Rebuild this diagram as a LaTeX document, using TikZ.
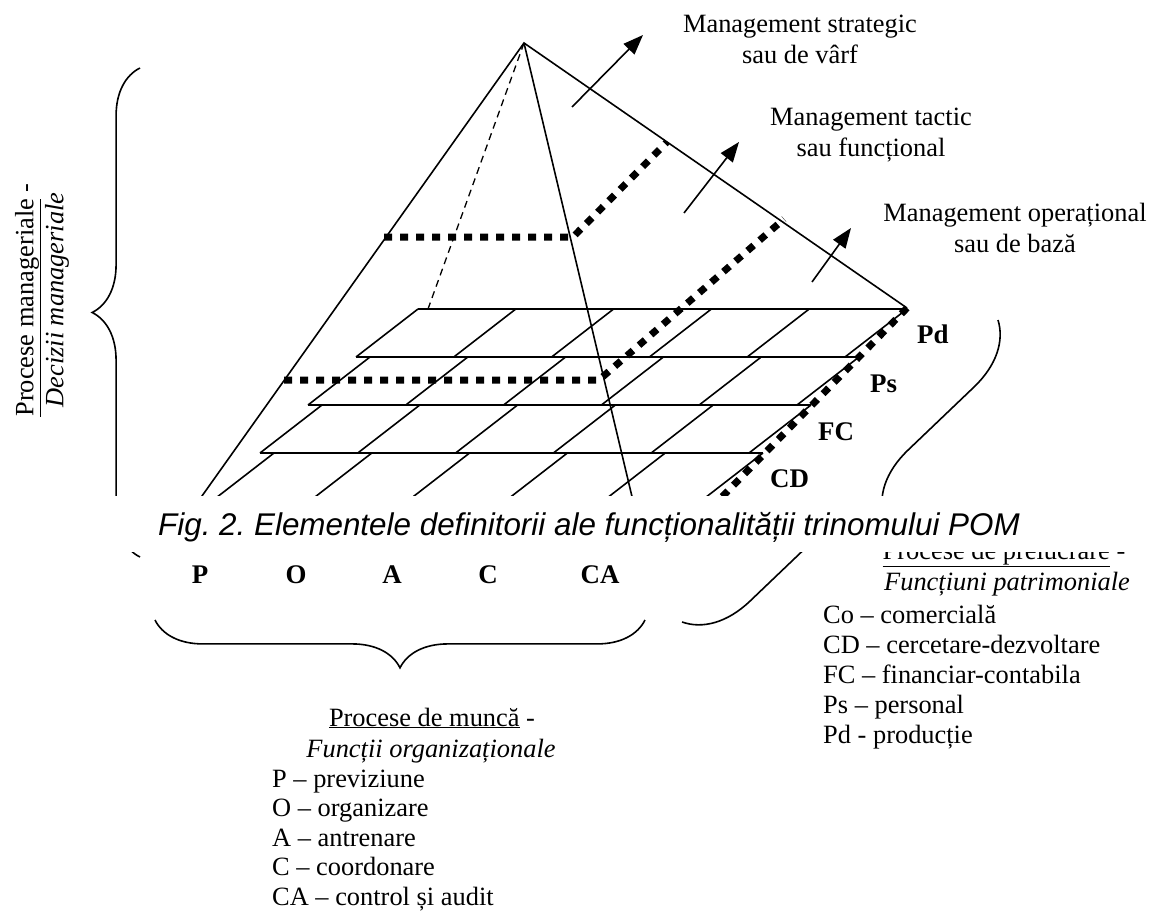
\documentclass[tikz,border=0pt]{standalone}
\usepackage{fontspec}
\setmainfont{Liberation Serif}
\newfontfamily\capfont{Liberation Sans}
\usetikzlibrary{arrows.meta,decorations.pathreplacing}

\tikzset{
  ridge/.style={line width=1.6bp},
  backline/.style={line width=1.3bp, dash pattern=on 7bp off 5bp},
  cellline/.style={line width=1.6bp},
  levelcut/.style={line width=7bp, dash pattern=on 8bp off 8bp},
  pointer/.style={line width=1.6bp, -{Triangle[length=20bp,width=15bp]}},
  curly/.style={line width=1.6bp, decorate, decoration={brace, amplitude=#1}},
  lbl/.style={font=\fontsize{27}{30}\selectfont\bfseries},
}

\begin{document}
\frenchspacing
\begin{tikzpicture}[x=1bp, y=-1bp, font=\fontsize{26.5}{30.3}\selectfont,
  every node/.style={inner sep=0pt}]
\useasboundingbox (0,0) rectangle (1151,912);

% corners of the pyramid
\coordinate (apex) at (524,43);
\coordinate (rc) at (907,308);
\coordinate (lf) at (197,503);
\coordinate (mf) at (634,505);
\coordinate (bk) at (428,309);
\coordinate (rf) at (717,502);

%% the layers of the base
\foreach \k in {0,...,3} {
  \pgfmathsetmacro{\xo}{418-48*\k}
  \pgfmathsetmacro{\yo}{309+48*\k}
  \pgfmathsetmacro{\xl}{\xo-14*min(\k,1)}
  \draw[cellline] (\xl,\yo) -- (\xo+489,\yo);
  \foreach \i in {0,...,5}
    \draw[cellline] (\xo+97.8*\i,\yo) -- ++(-62,48);
}

% edges
\draw[ridge] (lf) -- (apex) -- (rc);
\draw[ridge] (apex) -- (mf);
\draw[backline] (apex) -- (bk);

% the two levels
\coordinate (t1) at (384,237);
\coordinate (t2) at (573,237);
\coordinate (t3) at (667,142);
\coordinate (b1) at (284,380);
\coordinate (b2) at (599,380);
\coordinate (b3) at (784,219);
\draw[levelcut] (t1) -- (t2) -- (t3);
\draw[levelcut] (b1) -- (b2) -- (b3);
\draw[levelcut] (rc) -- (rf);

%% arrows out of the faces
\coordinate (s0) at (572,107);
\coordinate (s1) at (643,35);
\coordinate (m0) at (684,213);
\coordinate (m1) at (739,142);
\coordinate (o0) at (812,282);
\coordinate (o1) at (851,228);
\draw[pointer] (s0) -- (s1);
\draw[pointer] (m0) -- (m1);
\draw[pointer] (o0) -- (o1);

\node[align=center, anchor=base] (strat) at (800,63) {Management strategic\\sau de vârf};
\node[align=center, anchor=base] (tact) at (871,156) {Management tactic\\sau funcțional};
\node[align=center, anchor=base] (oper) at (1015,252) {Management operațional\\sau de bază};

% left side
\draw[curly=48] (140,557) -- (140,68);
\node[rotate=90, align=center] (mgr) at (42,300) {\underline{Procese manageriale} -\\\textit{Decizii manageriale}};

%% layer names
\foreach \t/\x/\y in {Pd/917/343, Ps/870/392, FC/818/440, CD/770/487}
  \node[lbl, anchor=base west] (d\t) at (\x,\y) {\t};
\draw[curly=64] (998,320) -- (682,622);

% functions
\foreach \t/\x in {P/200, O/296, A/392, C/488, CA/600}
  \node[lbl, anchor=base] (f\t) at (\x,583) {\t};
\draw[curly=48] (645,620) -- (155,620);

\node[anchor=base] (munca) at (432,726) {\underline{Procese de muncă} -};
\node[anchor=base] (org) at (431,757) {\textit{Funcții organizaționale}};
\foreach \t [count=\i from 0] in {P – previziune, O – organizare, A – antrenare, C – coordonare, CA – control și audit}
  \node[anchor=base west] (o\i) at (272,787+29.6*\i) {\t};

\node[anchor=base] (prel) at (1004,559) {\underline{Procese de prelucrare} -};
\node[anchor=base] (patr) at (1007,590) {\textit{Funcțiuni patrimoniale}};
\foreach \t [count=\i from 0] in {Co – comercială, CD – cercetare-dezvoltare, FC – financiar-contabila, Ps – personal, Pd - producție}
  \node[anchor=base west] (p\i) at (823,623+30*\i) {\t};

% caption over the figure
\fill[white] (0,496) rectangle (1151,552);
\node[anchor=base west, font=\capfont\itshape\fontsize{31.5}{36}\selectfont] (cap) at (158,535) {Fig. 2. Elementele definitorii ale funcționalității trinomului POM};
\end{tikzpicture}
\end{document}
